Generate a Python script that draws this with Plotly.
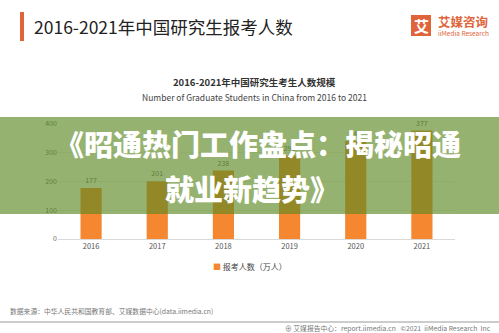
import plotly.graph_objects as go

W, H = 499, 333

years = ["2016", "2017", "2018", "2019", "2020", "2021"]
applicants = [177, 201, 238, 290, 341, 377]
y_ticks = [0, 100, 200, 300, 400]

title_main = "2016-2021年中国研究生报考人数"
chart_title = "2016-2021年中国研究生考生人数规模"
chart_sub = "Number of Graduate Students in China from 2016 to 2021"
series_name = "报考人数（万人）"
banner_line1 = "《昭通热门工作盘点：揭秘昭通"
banner_line2 = "就业新趋势》"
source_text = "数据来源：中华人民共和国教育部、艾媒数据中心(data.iimedia.cn)"
footer_text = "艾媒报告中心：report.iimedia.cn   ©2021  iiMedia Research  Inc"

FONT = "Noto Sans CJK SC"
ORANGE = "#F4872F"
LOGO = "#E0643A"


def px(x):
    return x / W


def py(y):
    return 1 - y / H


fig = go.Figure()
fig.add_trace(go.Bar(
    x=years, y=applicants, name=series_name,
    marker=dict(color=ORANGE, line=dict(width=0)),
    width=0.32,
    text=[str(v) for v in applicants], textposition="outside",
    textfont=dict(size=7, color="#666", family=FONT),
    cliponaxis=False,
    showlegend=False,
))

fig.update_layout(
    width=W, height=H,
    margin=dict(l=0, r=0, t=0, b=0),
    paper_bgcolor="white", plot_bgcolor="white",
    font=dict(family=FONT, color="#555"),
    showlegend=False,
    xaxis=dict(domain=[px(58), px(455)], showgrid=False, showline=True, linecolor="#d9d9d9",
               ticks="", tickfont=dict(size=7.5, color="#555"), automargin=False),
    yaxis=dict(domain=[py(239), py(124)], range=[0, 400], tickvals=y_ticks,
               showgrid=True, gridcolor="#eeeeee", zeroline=False, showline=False,
               ticks="", tickfont=dict(size=7, color="#666"), automargin=False),
    bargap=0.68,
)

shapes = [
    dict(type="rect", xref="paper", yref="paper", x0=px(20), x1=px(24), y0=py(41), y1=py(12),
         fillcolor=LOGO, line=dict(width=0)),
    dict(type="rect", xref="paper", yref="paper", x0=px(411), x1=px(431), y0=py(36), y1=py(15),
         fillcolor=LOGO, line=dict(width=0)),
    dict(type="rect", xref="paper", yref="paper", x0=0, x1=1, y0=py(214), y1=py(117),
         fillcolor="rgba(94,137,35,0.65)", line=dict(width=0), layer="above"),
    dict(type="line", xref="paper", yref="paper", x0=0, x1=1, y0=py(322), y1=py(322),
         line=dict(color="#9a9a9a", width=1.2)),
]
fig.update_layout(shapes=shapes)

ann = [
    dict(text=title_main, x=px(32), y=py(26), xanchor="left", yanchor="middle",
         font=dict(size=17.5, color="#222", family=FONT)),
    dict(text="<b>艾</b>", x=px(421), y=py(25.5), xanchor="center", yanchor="middle",
         font=dict(size=15, color="white", family=FONT)),
    dict(text="<b>艾媒咨询</b>", x=px(436), y=py(22), xanchor="left", yanchor="middle",
         font=dict(size=12.5, color=LOGO, family=FONT)),
    dict(text="iiMedia Research", x=px(436), y=py(33), xanchor="left", yanchor="middle",
         font=dict(size=6.5, color=LOGO, family=FONT)),
    dict(text="<b>" + chart_title + "</b>", x=px(255), y=py(82), xanchor="center", yanchor="middle",
         font=dict(size=9.5, color="#333", family=FONT)),
    dict(text=chart_sub, x=px(255), y=py(97), xanchor="center", yanchor="middle",
         font=dict(size=8.5, color="#444", family=FONT)),
    dict(text=banner_line1, x=px(258), y=py(143), xanchor="center", yanchor="middle",
         font=dict(size=29, color="white", family=FONT, weight=900)),
    dict(text=banner_line2, x=px(252), y=py(188), xanchor="center", yanchor="middle",
         font=dict(size=29, color="white", family=FONT, weight=900)),
    dict(text="<span style='color:" + ORANGE + "'>■</span> " + series_name,
         x=px(250), y=py(266), xanchor="center", yanchor="middle",
         font=dict(size=8, color="#444", family=FONT)),
    dict(text=source_text, x=px(8), y=py(311), xanchor="left", yanchor="middle",
         font=dict(size=6.8, color="#777", family=FONT)),
    dict(text="⊕ " + footer_text, x=px(493), y=py(328), xanchor="right", yanchor="middle",
         font=dict(size=6.8, color="#777", family=FONT)),
]
for a in ann:
    a.update(xref="paper", yref="paper", showarrow=False)
fig.update_layout(annotations=ann)

fig.write_html("out.html")
